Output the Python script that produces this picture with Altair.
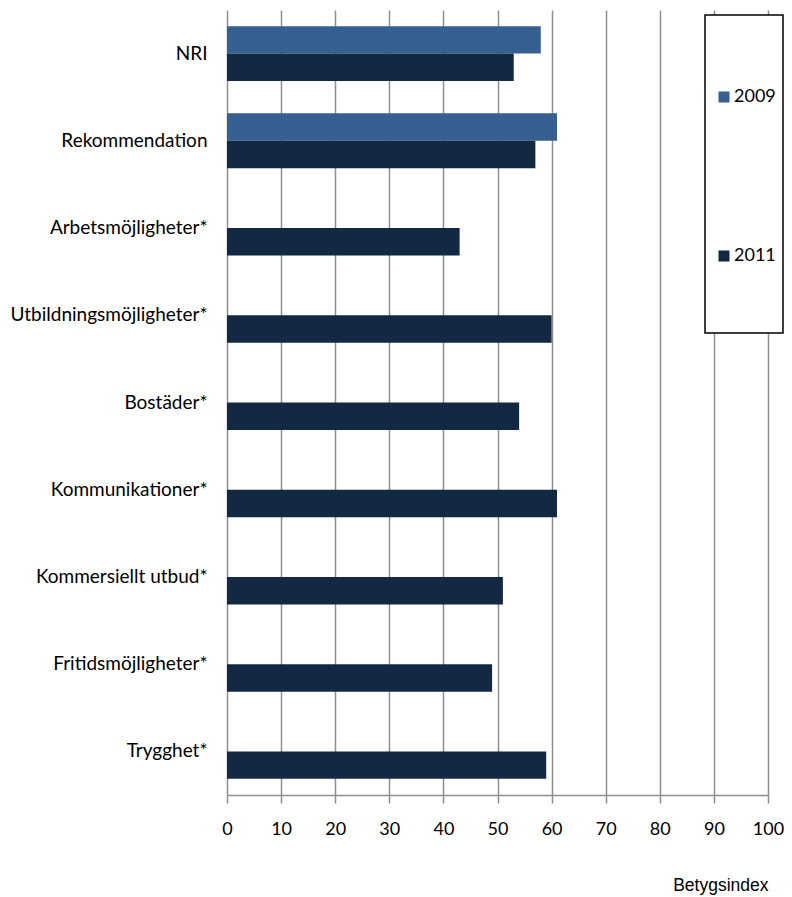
import altair as alt
import pandas as pd

categories = ["NRI", "Rekommendation", "Arbetsmöjligheter*", "Utbildningsmöjligheter*",
              "Bostäder*", "Kommunikationer*", "Kommersiellt utbud*",
              "Fritidsmöjligheter*", "Trygghet*"]
values_2009 = [58, 61, None, None, None, None, None, None, None]
values_2011 = [53, 57, 43, 60, 54, 61, 51, 49, 59]
years = ["2009", "2011"]
colors = ["#366092", "#132843"]
x_ticks = [0, 10, 20, 30, 40, 50, 60, 70, 80, 90, 100]

rows = []
for cat, v09, v11 in zip(categories, values_2009, values_2011):
    if v09 is not None:
        rows.append({"Kategori": cat, "År": "2009", "Betygsindex": v09})
    if v11 is not None:
        rows.append({"Kategori": cat, "År": "2011", "Betygsindex": v11})
df = pd.DataFrame(rows)

GRID = "#8f8f8f"
FONT = "Lato"

bars = alt.Chart(df).mark_bar().encode(
    y=alt.Y("Kategori:N", sort=categories,
            scale=alt.Scale(paddingInner=0.37, paddingOuter=0.185),
            axis=alt.Axis(title=None, domain=False, ticks=False, labelFont=FONT,
                          labelFontSize=19, labelColor="black", labelPadding=20,
                          labelLimit=0)),
    yOffset=alt.YOffset("År:N", sort=years,
                        scale=alt.Scale(domain=years, paddingInner=0, paddingOuter=0)),
    x=alt.X("Betygsindex:Q", scale=alt.Scale(domain=[0, 100], nice=False),
            axis=alt.Axis(values=x_ticks, grid=True, gridColor=GRID, gridWidth=1.5,
                          gridOpacity=1, domainColor=GRID, domainWidth=1.5,
                          tickColor=GRID, tickWidth=1.5, tickSize=8,
                          labelFont=FONT, labelFontSize=18, labelColor="black",
                          labelFlush=False, labelOverlap=False,
                          labelPadding=17, title="Betygsindex", titleAnchor="end",
                          titleFont="Liberation Sans", titleFontSize=17.5,
                          titleFontWeight="normal", titleColor="black",
                          titlePadding=38)),
    color=alt.Color("År:N", scale=alt.Scale(domain=years, range=colors),
                    legend=alt.Legend(title=None, orient="none", legendX=488, legendY=78,
                                      symbolType="square", symbolSize=121,
                                      symbolStrokeWidth=0, labelFont=FONT,
                                      labelFontSize=18, labelColor="black",
                                      labelOffset=1, rowPadding=141, padding=0)),
)

frame = alt.Chart(pd.DataFrame({"legend": ["ram"]})).mark_rect(
    fill="white", stroke="black", strokeWidth=1.5
).encode(
    x=alt.value(478), x2=alt.value(556), y=alt.value(5), y2=alt.value(323)
)

chart = alt.layer(bars, frame).properties(
    width=541, height=785,
    autosize=alt.AutoSizeParams(type="none"),
    padding={"left": 219, "top": 2, "right": 16, "bottom": 100},
).configure_view(stroke=None)

chart.save("out.html", embed_options={"renderer": "svg", "actions": False})
